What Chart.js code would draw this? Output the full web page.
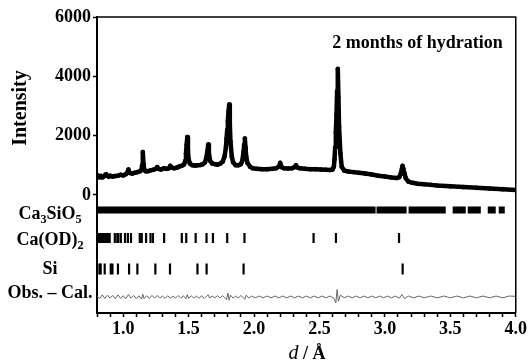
<!DOCTYPE html>
<html>
<head>
<meta charset="utf-8">
<script src="https://cdn.jsdelivr.net/npm/chart.js@4.4.1/dist/chart.umd.min.js"></script>
<style>
  html, body { margin: 0; padding: 0; background: #fff; }
</style>
</head>
<body>
<canvas id="chart_pattern" width="529" height="364"></canvas>
<script>
//観測データ (d / Å, 強度)
var obs_d = [0.80,0.81,0.82,0.83,0.84,0.85,0.86,0.87,0.88,0.89,0.90,0.92,0.94,0.96,0.98,1.00,1.02,1.03,1.04,1.05,
    1.07,1.09,1.11,1.13,1.14,1.145,1.15,1.155,1.16,1.17,1.19,1.21,1.23,1.25,1.26,1.27,1.29,1.31,1.33,1.35,
    1.36,1.37,1.39,1.41,1.43,1.45,1.465,1.475,1.48,1.485,1.49,1.495,1.50,1.51,1.53,1.55,1.57,1.59,1.61,1.625,
    1.635,1.645,1.65,1.655,1.665,1.68,1.70,1.72,1.74,1.76,1.775,1.785,1.79,1.795,1.80,1.805,1.81,1.815,1.82,1.83,
    1.84,1.86,1.88,1.90,1.91,1.92,1.925,1.93,1.935,1.94,1.95,1.97,1.99,2.02,2.06,2.10,2.14,2.17,2.19,2.20,
    2.21,2.23,2.26,2.29,2.31,2.32,2.33,2.35,2.39,2.43,2.47,2.51,2.55,2.58,2.60,2.61,2.615,2.62,2.625,2.63,
    2.635,2.64,2.645,2.65,2.66,2.67,2.69,2.72,2.76,2.80,2.85,2.90,2.95,3.00,3.05,3.09,3.11,3.12,3.13,3.135,
    3.14,3.15,3.16,3.18,3.21,3.25,3.30,3.35,3.40,3.50,3.60,3.70,3.80,3.90,4.00];
var obs_int = [580,650,600,640,590,620,660,700,640,610,650,620,640,650,680,660,700,740,860,740,
    720,750,770,800,850,1000,1450,1050,880,800,800,830,850,880,940,880,860,900,880,900,
    980,920,900,920,960,990,1030,1150,1400,1700,1950,1500,1200,1060,1000,990,1000,1010,1040,1100,
    1250,1500,1700,1400,1150,1060,1040,1020,1050,1120,1300,1600,1900,2200,2500,2800,3050,2400,1800,1300,
    1100,1000,1000,1040,1150,1450,1700,1900,1600,1300,1080,950,900,880,870,870,880,900,960,1080,
    940,900,890,900,940,1000,930,900,880,870,870,860,850,840,860,950,1200,1600,2100,2700,
    3500,4250,3300,2300,1400,950,820,790,770,750,720,690,650,620,590,570,600,700,880,980,
    900,720,560,450,410,380,360,340,320,290,265,240,215,195,170];

//Obs. - Cal. の差分
var diff_d = [0.80,0.82,0.84,0.86,0.88,0.90,0.92,0.94,0.96,0.98,1.00,1.02,1.04,1.06,1.08,1.10,1.12,1.14,1.15,1.16,
    1.18,1.20,1.22,1.24,1.26,1.28,1.30,1.32,1.34,1.36,1.38,1.40,1.42,1.44,1.46,1.48,1.49,1.50,1.52,1.54,
    1.56,1.58,1.60,1.62,1.64,1.65,1.66,1.68,1.70,1.72,1.74,1.76,1.78,1.79,1.80,1.81,1.82,1.84,1.86,1.88,
    1.90,1.92,1.93,1.94,1.96,1.98,2.01,2.04,2.07,2.10,2.13,2.16,2.19,2.22,2.25,2.28,2.31,2.34,2.37,2.40,
    2.43,2.46,2.49,2.52,2.55,2.58,2.61,2.625,2.635,2.645,2.66,2.69,2.72,2.75,2.78,2.81,2.84,2.87,2.90,2.93,
    2.96,2.99,3.02,3.05,3.08,3.11,3.13,3.15,3.18,3.22,3.26,3.30,3.35,3.40,3.45,3.50,3.55,3.60,3.65,3.70,
    3.75,3.80,3.85,3.90,3.95,4.00];
var diff_val = [40,-60,70,-50,60,-40,50,-60,70,-50,40,-60,80,-40,50,-60,40,-70,90,-60,
    40,-50,50,-40,50,-40,30,-50,40,-40,30,-40,50,-40,40,-60,80,-50,40,-40,
    30,-40,40,-50,40,70,-40,30,-30,40,-30,40,-50,-90,130,-110,60,-40,30,-40,
    50,-40,-80,60,-40,30,-30,30,-30,30,-30,30,-30,30,-30,30,-30,30,-30,30,
    -30,30,-30,30,-30,30,-40,-200,250,-150,60,-30,30,-30,30,-30,30,-30,30,-30,
    30,-30,30,-30,30,-40,80,-60,30,-30,30,-30,30,-30,30,-30,30,-30,30,-30,
    30,-30,30,-30,30,20];

//Ca3SiO5 の反射 (密集している範囲)
var c3s_start = [0.80,2.936,3.181,3.518,3.633,3.786,3.870];
var c3s_end   = [2.929,3.166,3.465,3.618,3.733,3.847,3.916];
//Ca(OD)2 の反射
var caod_d = [3.108,2.626,2.455,1.927,1.795,1.686,1.637,1.554,1.482,1.448,1.313,1.2275,1.209,1.175,1.142,1.127,
    1.060,1.036,1.014,0.982,0.963,0.955,0.936,0.897,0.883,0.875,0.862,0.849,0.843,0.830,0.818,0.8135];
//Si の反射
var si_d = [3.1356,1.9201,1.6375,1.5678,1.3578,1.2459,1.1086,1.0452,0.9601,0.9180,0.9052,0.8588,0.8282,0.8188];

//行ラベルと高さ
var row_labels = ['Ca_3SiO_5', 'Ca(OD)_2', 'Si', 'Obs. \u2013 Cal.'];
var row_y = [-506, -1450, -2494, -3438];
var y_ticks = [0, 2000, 4000, 6000];
var x_labels = [1.0, 1.5, 2.0, 2.5, 3.0, 3.5, 4.0];

var FONT = '"Liberation Serif", "Times New Roman", serif';

//下付き文字つきで描画 ("_" の次の数字を下付き)
function drawSubText(ctx, text, cx, cy, size) {
    var parts = text.split(/_(\d)/);
    var widths = [];
    var total = 0;
    for (var i = 0; i < parts.length; i++) {
        ctx.font = 'bold ' + (i % 2 ? size * 0.68 : size) + 'px ' + FONT;
        widths.push(ctx.measureText(parts[i]).width);
        total += widths[i];
    }
    var x = cx - total / 2;
    for (var i = 0; i < parts.length; i++) {
        ctx.font = 'bold ' + (i % 2 ? size * 0.68 : size) + 'px ' + FONT;
        ctx.fillText(parts[i], x, cy + (i % 2 ? size * 0.3 : 0));
        x += widths[i];
    }
}

//枠・ラベルなど
var decoration = {
    id: 'decoration',
    afterDraw: function(chart) {
        var ctx = chart.ctx;
        var ca = chart.chartArea;
        var yScale = chart.scales.y;
        ctx.save();
        //上と右の枠線
        ctx.strokeStyle = '#000';
        ctx.lineWidth = 1.5;
        ctx.beginPath();
        ctx.moveTo(ca.left, ca.top);
        ctx.lineTo(ca.right, ca.top);
        ctx.lineTo(ca.right, ca.bottom);
        ctx.stroke();

        ctx.fillStyle = '#000';
        ctx.textAlign = 'left';
        ctx.textBaseline = 'middle';
        //行ラベル
        var label_dy = [4, 2, 0, -4];
        for (var i = 0; i < row_labels.length; i++) {
            drawSubText(ctx, row_labels[i], 50, yScale.getPixelForValue(row_y[i]) + label_dy[i], 18);
        }

        //タイトル
        ctx.font = 'bold 18px ' + FONT;
        ctx.textAlign = 'right';
        ctx.textBaseline = 'alphabetic';
        ctx.fillText('2 months of hydration', ca.right - 13, 48);

        //縦軸タイトル
        ctx.save();
        ctx.translate(21, 108);
        ctx.rotate(-Math.PI / 2);
        ctx.textAlign = 'center';
        ctx.textBaseline = 'middle';
        ctx.font = 'bold 20px ' + FONT;
        ctx.fillText('Intensity', 0, 0);
        ctx.restore();

        //横軸タイトル d / Å
        ctx.textAlign = 'left';
        ctx.font = 'italic 20px ' + FONT;
        var w1 = ctx.measureText('d').width;
        ctx.font = 'bold 18px ' + FONT;
        var w2 = ctx.measureText(' / \u00c5').width;
        var x0 = 307 - (w1 + w2) / 2;
        ctx.font = 'italic 20px ' + FONT;
        ctx.fillText('d', x0, 359);
        ctx.font = 'bold 18px ' + FONT;
        ctx.fillText(' / \u00c5', x0 + w1, 359);
        ctx.restore();
    }
};

//データを用意する
var obsPoints = [];
for (var i = 0; i < obs_d.length; i++) {
    obsPoints.push({x: obs_d[i], y: obs_int[i]});
}
var diffPoints = [];
for (var i = 0; i < diff_d.length; i++) {
    diffPoints.push({x: diff_d[i], y: row_y[3] + diff_val[i]});
}
var c3sPoints = [];
for (var i = 0; i < c3s_start.length; i++) {
    c3sPoints.push({x: c3s_start[i], y: row_y[0]});
    c3sPoints.push({x: c3s_end[i], y: row_y[0]});
    c3sPoints.push({x: c3s_end[i], y: null});
}
var caodPoints = caod_d.map(function(d) { return {x: d, y: row_y[1]}; });
var siPoints = si_d.map(function(d) { return {x: d, y: row_y[2]}; });

//表示処理
var chartArea = document.getElementById('chart_pattern');
var myChart = new Chart(chartArea, {
    type: 'scatter',
    data: {
        datasets: [
            {
                label: 'Obs.',
                data: obsPoints,
                showLine: true,
                borderColor: '#000',
                borderWidth: 4.5,
                borderJoinStyle: 'round',
                pointRadius: 2.3,
                pointBorderWidth: 0,
                pointBackgroundColor: '#000'
            },
            {
                label: 'Ca3SiO5',
                data: c3sPoints,
                showLine: true,
                spanGaps: false,
                borderColor: '#000',
                borderWidth: 7,
                borderCapStyle: 'butt',
                pointRadius: 0
            },
            {
                label: 'Ca(OD)2',
                data: caodPoints,
                pointStyle: 'line',
                rotation: 90,
                pointRadius: 5,
                borderColor: '#000',
                borderWidth: 2.2
            },
            {
                label: 'Si',
                data: siPoints,
                pointStyle: 'line',
                rotation: 90,
                pointRadius: 5.5,
                borderColor: '#000',
                borderWidth: 2.2
            },
            {
                label: 'Obs. - Cal.',
                data: diffPoints,
                showLine: true,
                borderColor: '#666',
                borderWidth: 1,
                pointRadius: 0
            }
        ]
    },
    options: {
        responsive: false,
        animation: false,
        layout: { padding: { left: 0, right: 13, top: 17, bottom: 0 } },
        plugins: {
            legend: { display: false },
            tooltip: { enabled: false }
        },
        scales: {
            x: {
                type: 'linear',
                min: 0.8,
                max: 4.0,
                afterFit: function(scale) { scale.height = 51; },
                afterBuildTicks: function(scale) {
                    var t = [];
                    for (var k = 8; k <= 40; k++) t.push({value: k / 10});
                    scale.ticks = t;
                },
                grid: { drawOnChartArea: false, drawTicks: true, tickLength: 4, tickColor: '#000', tickWidth: 1.5 },
                border: { display: true, color: '#000', width: 2 },
                ticks: {
                    autoSkip: false,
                    maxRotation: 0,
                    padding: 2,
                    color: '#000',
                    font: { family: FONT, size: 18, weight: 'bold' },
                    callback: function(value) {
                        for (var i = 0; i < x_labels.length; i++) {
                            if (Math.abs(x_labels[i] - value) < 1e-6) return x_labels[i].toFixed(1);
                        }
                        return '';
                    }
                }
            },
            y: {
                type: 'linear',
                min: -3980,
                max: 6000,
                afterFit: function(scale) { scale.width = 97; },
                afterBuildTicks: function(scale) {
                    scale.ticks = y_ticks.map(function(v) { return {value: v}; });
                },
                grid: { drawOnChartArea: false, drawTicks: true, tickLength: 4, tickColor: '#000', tickWidth: 1.5 },
                border: { display: true, color: '#000', width: 2 },
                ticks: {
                    padding: 2,
                    color: '#000',
                    font: { family: FONT, size: 18, weight: 'bold' },
                    callback: function(value) { return String(value); }
                }
            }
        }
    },
    plugins: [decoration]
});
</script>
</body>
</html>
